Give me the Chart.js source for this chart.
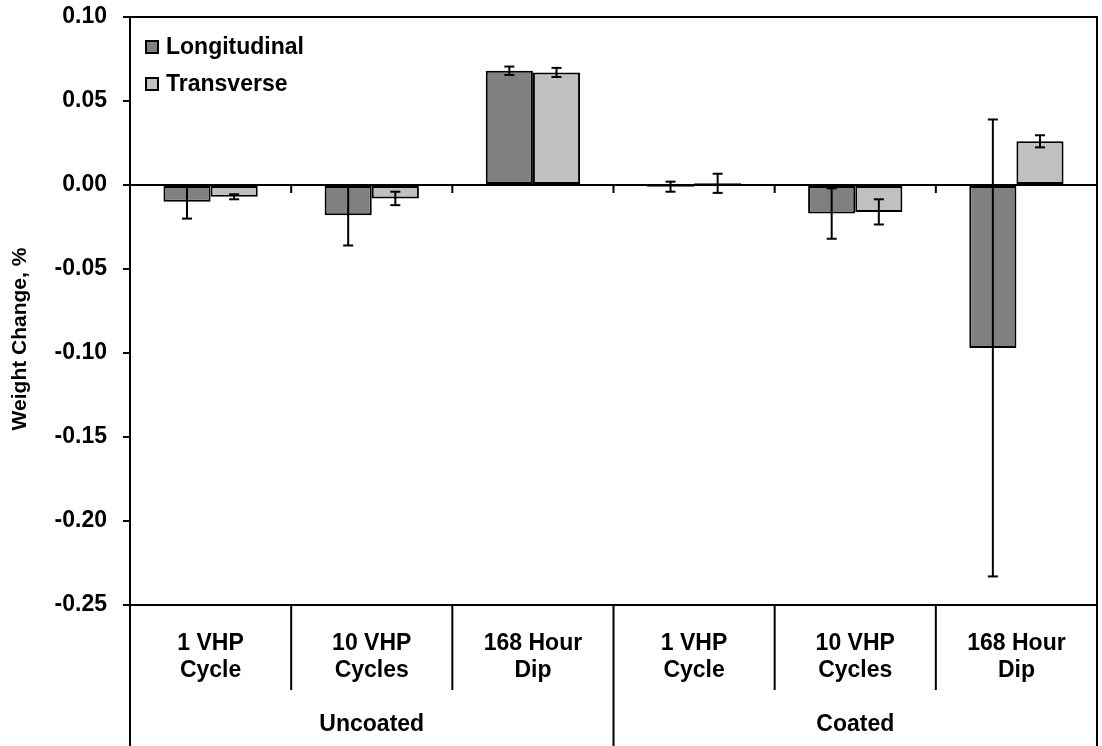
<!DOCTYPE html>
<html>
<head>
<meta charset="utf-8">
<script src="https://cdn.jsdelivr.net/npm/chart.js@4.4.1/dist/chart.umd.min.js"></script>
<style>
  html, body { margin: 0; padding: 0; background: #fff; }
</style>
</head>
<body>
<canvas id="weightChart" width="1102" height="746"></canvas>
<script>
const categories = [
    ['1 VHP', 'Cycle'], ['10 VHP', 'Cycles'], ['168 Hour', 'Dip'],
    ['1 VHP', 'Cycle'], ['10 VHP', 'Cycles'], ['168 Hour', 'Dip']
];
const groups = ['Uncoated', 'Coated'];
const longitudinal = [-0.010, -0.018, 0.068, -0.001, -0.017, -0.097];
const longitudinalErr = [0.010, 0.018, 0.0025, 0.003, 0.015, 0.136];
const transverse = [-0.007, -0.008, 0.067, 0.001, -0.016, 0.026];
const transverseErr = [0.0015, 0.004, 0.0027, 0.0057, 0.0075, 0.0036];
const yTicks = [0.10, 0.05, 0.00, -0.05, -0.10, -0.15, -0.20, -0.25];

const FONT = '"Liberation Sans", Arial, sans-serif';
const errors = [longitudinalErr, transverseErr];

// frame, zero axis, category separators, group labels, legend and error bars
const decorations = {
    id: 'decorations',
    afterDatasetsDraw(chart) {
        const { ctx, chartArea: area, scales: { x, y } } = chart;
        const bottom = chart.height;
        const catW = x.getPixelForValue(1) - x.getPixelForValue(0);
        const edge = i => x.getPixelForValue(0) - catW / 2 + i * catW;
        const y0 = y.getPixelForValue(0);

        ctx.save();
        ctx.strokeStyle = '#000';
        ctx.lineWidth = 2;
        ctx.lineCap = 'butt';
        const line = (x1, y1, x2, y2) => {
            ctx.beginPath(); ctx.moveTo(x1, y1); ctx.lineTo(x2, y2); ctx.stroke();
        };

        // plot frame
        line(area.left - 1, area.top, area.right, area.top);
        line(area.right, area.top - 1, area.right, bottom);
        line(area.left - 7, area.bottom, area.right, area.bottom);
        line(area.left, area.bottom, area.left, bottom);

        // zero axis with ticks
        line(area.left, y0, area.right, y0);
        for (let i = 1; i < categories.length; i++) {
            line(edge(i), y0, edge(i), y0 + 8);
        }

        // category separators
        for (let i = 1; i < categories.length; i++) {
            const isGroupEdge = i % 3 === 0;
            line(edge(i), area.bottom, edge(i), isGroupEdge ? bottom : area.bottom + 85);
        }

        ctx.fillStyle = '#000';
        ctx.font = 'bold 23px ' + FONT;
        ctx.textAlign = 'center';
        ctx.textBaseline = 'middle';
        groups.forEach((g, gi) => {
            const cx = (edge(gi * 3) + edge(gi * 3 + 3)) / 2;
            ctx.fillText(g, cx, 725);
        });

        // y axis title
        ctx.save();
        ctx.translate(20, 339);
        ctx.rotate(-Math.PI / 2);
        ctx.font = 'bold 21px ' + FONT;
        ctx.fillText('Weight Change, %', 0, 0);
        ctx.restore();

        // legend
        ctx.textAlign = 'left';
        ctx.font = 'bold 23px ' + FONT;
        chart.data.datasets.forEach((ds, i) => {
            const cy = 47 + i * 37;
            ctx.fillStyle = ds.backgroundColor;
            ctx.fillRect(146, cy - 6, 12, 12);
            ctx.strokeRect(146, cy - 6, 12, 12);
            ctx.fillStyle = '#000';
            ctx.fillText(ds.label, 166, cy + 1);
        });

        // error bars
        chart.data.datasets.forEach((ds, di) => {
            const meta = chart.getDatasetMeta(di);
            meta.data.forEach((bar, i) => {
                const v = ds.data[i];
                const e = errors[di][i];
                const top = y.getPixelForValue(v + e);
                const bot = y.getPixelForValue(v - e);
                line(bar.x, top, bar.x, bot);
                line(bar.x - 5, top, bar.x + 5, top);
                line(bar.x - 5, bot, bar.x + 5, bot);
            });
        });
        ctx.restore();
    }
};

new Chart(document.getElementById('weightChart').getContext('2d'), {
    type: 'bar',
    data: {
        labels: categories,
        datasets: [{
            label: 'Longitudinal',
            data: longitudinal,
            backgroundColor: '#808080',
            borderColor: '#000',
            borderWidth: 2,
            borderSkipped: false
        }, {
            label: 'Transverse',
            data: transverse,
            backgroundColor: '#c0c0c0',
            borderColor: '#000',
            borderWidth: 2,
            borderSkipped: false
        }]
    },
    options: {
        responsive: false,
        animation: false,
        events: [],
        layout: { padding: { top: 17, right: 5, left: 0, bottom: 0 } },
        plugins: {
            legend: { display: false },
            tooltip: { enabled: false }
        },
        datasets: {
            bar: { categoryPercentage: 0.585, barPercentage: 1.0 }
        },
        scales: {
            x: {
                offset: true,
                grid: { display: false },
                border: { display: false },
                ticks: {
                    color: '#000',
                    padding: 17,
                    maxRotation: 0,
                    autoSkip: false,
                    font: { family: FONT, size: 23, weight: 'bold', lineHeight: 1.17 }
                },
                afterFit(scale) { scale.height = 141; }
            },
            y: {
                min: -0.25,
                max: 0.10,
                afterBuildTicks(scale) { scale.ticks = yTicks.map(v => ({ value: v })); },
                grid: {
                    drawOnChartArea: false,
                    drawTicks: true,
                    tickLength: 7,
                    color: '#000',
                    lineWidth: 2
                },
                border: { display: true, color: '#000', width: 2 },
                ticks: {
                    color: '#000',
                    padding: 16,
                    font: { family: FONT, size: 23, weight: 'bold' },
                    callback: v => v.toFixed(2)
                },
                afterFit(scale) {
                    scale.width = 130;
                    scale.paddingTop = 0;
                    scale.paddingBottom = 0;
                }
            }
        }
    },
    plugins: [decorations]
});
</script>
</body>
</html>
